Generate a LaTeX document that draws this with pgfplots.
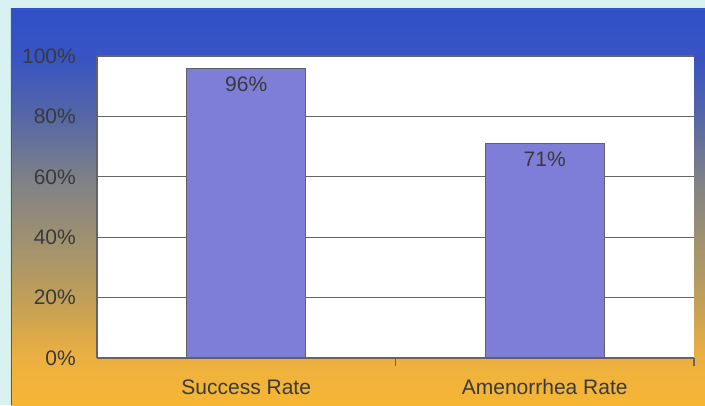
\documentclass[border=0pt]{standalone}
\usepackage{pgfplots}
\pgfplotsset{compat=1.18}
\usepackage{fontspec}
\setmainfont{Liberation Sans}
\definecolor{outerbg}{RGB}{215,242,240}
\definecolor{cA}{RGB}{246,182,52}
\definecolor{cB}{RGB}{236,176,64}
\definecolor{cC}{RGB}{190,158,90}
\definecolor{cD}{RGB}{156,144,114}
\definecolor{cE}{RGB}{124,128,136}
\definecolor{cF}{RGB}{84,102,166}
\definecolor{cG}{RGB}{56,84,196}
\definecolor{cH}{RGB}{48,80,200}
\definecolor{barfill}{RGB}{126,126,216}
\definecolor{bardraw}{RGB}{96,96,104}
\definecolor{gridc}{RGB}{100,100,100}
\definecolor{textc}{RGB}{58,58,58}
\pgfdeclareverticalshading{panelbg}{100bp}{color(0bp)=(cA); color(25bp)=(cA); color(30.9bp)=(cB); color(38.9bp)=(cC); color(46.5bp)=(cD); color(54bp)=(cE); color(61.6bp)=(cF); color(69bp)=(cG); color(75bp)=(cH); color(100bp)=(cH)}
\begin{document}
\begin{tikzpicture}
\useasboundingbox (-97pt,-47pt) rectangle (608pt,358pt);
\fill[outerbg] (-97pt,-47pt) rectangle (608pt,358pt);
\shade[shading=panelbg] (-86pt,-47pt) rectangle (608pt,349pt);
\draw[gray!70!black, line width=0.6pt] (-86pt,-47pt) -- (-86pt,349pt) -- (608pt,349pt);
\begin{axis}[
  at={(0pt,0pt)}, anchor=south west,
  scale only axis,
  width=597pt, height=302pt,
  xmin=-0.5, xmax=1.5,
  ymin=0, ymax=100,
  ybar, bar width=119pt,
  axis background/.style={fill=white},
  axis x line*=bottom, axis y line*=left,
  axis line style={draw=gridc, line width=1.2pt},
  ytick={0,20,40,60,80,100},
  ymajorgrids,
  grid style={draw=gridc, line width=1.2pt},
  ytick style={draw=none},
  xtick={0,1},
  xticklabels={Success Rate,Amenorrhea Rate},
  xtick style={draw=none},
  extra x ticks={0.5,1.5},
  extra x tick labels={},
  extra x tick style={grid=none, tick align=outside, major tick length=8pt, xtick style={draw=gridc, line width=1.2pt}},
  /pgf/number format/assume math mode=true,
  yticklabel={\pgfmathprintnumber{\tick}\%},
  tick label style={font=\fontsize{21}{24}\selectfont, text=textc},
  yticklabel style={anchor=east, inner sep=0pt, xshift=-21pt},
  xticklabel style={anchor=north, inner sep=0pt, yshift=-17pt},
  nodes near coords={\pgfmathprintnumber{\pgfplotspointmeta}\%},
  every node near coord/.append style={anchor=north, inner sep=0pt, yshift=-8pt, font=\fontsize{21}{24}\selectfont, text=textc},
  clip=false,
]
\addplot[fill=barfill, draw=bardraw, line width=1.1pt] coordinates {(0,96) (1,71)};
\end{axis}
\end{tikzpicture}
\end{document}
